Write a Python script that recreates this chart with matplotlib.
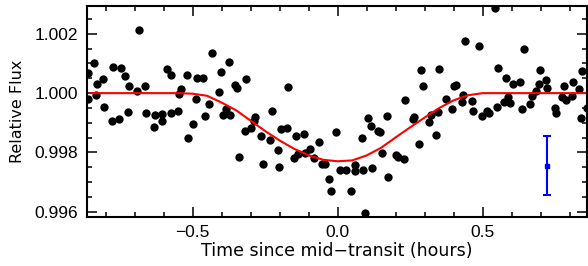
import matplotlib
matplotlib.use("Agg")
import matplotlib.pyplot as plt
from matplotlib.ticker import MultipleLocator

# Observed relative flux (time in hours since mid-transit)
time_hr = [
    -0.862, -0.860, -0.841, -0.834, -0.830, -0.808, -0.805, -0.777, -0.775, -0.752,
    -0.748, -0.734, -0.722, -0.719, -0.691, -0.685, -0.665, -0.660, -0.634, -0.629,
    -0.606, -0.604, -0.588, -0.576, -0.574, -0.551, -0.547, -0.541, -0.519, -0.517,
    -0.499, -0.490, -0.486, -0.464, -0.458, -0.442, -0.433, -0.409, -0.402, -0.396,
    -0.386, -0.376, -0.372, -0.353, -0.346, -0.340, -0.320, -0.316, -0.298, -0.286,
    -0.290, -0.263, -0.256, -0.232, -0.225, -0.207, -0.201, -0.194, -0.175, -0.172,
    -0.151, -0.145, -0.137, -0.118, -0.114, -0.096, -0.082, -0.063, -0.053, -0.045,
    -0.031, -0.025, -0.005, 0.006, 0.027, 0.046, 0.058, 0.061, 0.083, 0.088,
    0.095, 0.104, 0.113, 0.117, 0.138, 0.147, 0.152, 0.170, 0.172, 0.201,
    0.209, 0.227, 0.232, 0.260, 0.264, 0.281, 0.288, 0.295, 0.316, 0.322,
    0.338, 0.347, 0.350, 0.372, 0.394, 0.402, 0.409, 0.427, 0.433, 0.440,
    0.461, 0.465, 0.485, 0.496, 0.514, 0.522, 0.540, 0.549, 0.551, 0.574,
    0.578, 0.585, 0.592, 0.604, 0.629, 0.635, 0.640, 0.663, 0.668, 0.684,
    0.692, 0.698, 0.719, 0.722, 0.747, 0.752, 0.774, 0.780, 0.787, 0.806,
    0.810, 0.832, 0.837, 0.842, 0.858,
]
rel_flux = [
    1.00067, 0.99979, 1.00101, 0.99994, 1.00032, 1.00048, 0.99953, 0.99907, 1.00089, 0.99914,
    1.00085, 1.00058, 0.99936, 1.00024, 1.00007, 1.00214, 1.00023, 0.99933, 0.99885, 0.99927,
    0.99931, 0.99905, 1.00081, 1.00060, 0.99934, 0.99939, 0.99997, 1.00013, 1.00062, 0.99850,
    0.99897, 0.99979, 1.00050, 1.00052, 0.99922, 0.99964, 1.00136, 1.00005, 1.00071, 0.99925,
    0.99947, 1.00105, 0.99925, 1.00029, 1.00017, 0.99786, 0.99873, 1.00046, 0.99883, 0.99921,
    0.99907, 0.99855, 0.99761, 0.99842, 0.99941, 0.99807, 0.99751, 0.99879, 0.99883, 1.00022,
    0.99781, 0.99855, 0.99795, 0.99862, 0.99797, 0.99812, 0.99781, 0.99835, 0.99761, 0.99760,
    0.99709, 0.99671, 0.99870, 0.99741, 0.99741, 0.99671, 0.99758, 0.99737, 0.99850, 0.99741,
    0.99594, 0.99916, 0.99890, 0.99746, 0.99873, 0.99869, 0.99799, 0.99923, 0.99718, 0.99791,
    0.99784, 0.99777, 0.99977, 0.99912, 0.99921, 0.99829, 1.00077, 1.00024, 0.99903, 0.99926,
    0.99858, 0.99936, 1.00083, 0.99979, 0.99948, 1.00024, 1.00029, 0.99970, 0.99992, 1.00175,
    0.99975, 0.99941, 1.00158, 0.99922, 0.99939, 0.99932, 1.00287, 0.99953, 1.00085, 0.99970,
    1.00050, 0.99986, 0.99966, 1.00030, 1.00038, 0.99946, 1.00149, 0.99963, 0.99991, 1.00007,
    1.00030, 1.00079, 1.00045, 1.00017, 0.99949, 0.99934, 0.99986, 1.00024, 0.99977, 0.99991,
    1.00038, 1.00013, 0.99915, 1.00074, 0.99950,
]

# Transit model curve
model_time = [
    -0.85, -0.80, -0.75, -0.70, -0.65, -0.60, -0.55, -0.50, -0.45, -0.40,
    -0.35, -0.30, -0.25, -0.20, -0.15, -0.10, -0.05, 0.00, 0.05, 0.10,
    0.15, 0.20, 0.25, 0.30, 0.35, 0.40, 0.45, 0.50, 0.55, 0.60,
    0.65, 0.70, 0.75, 0.80, 0.85,
]
model_flux = [
    1.00000, 1.00000, 1.00000, 1.00000, 1.00000, 1.00000, 1.00000, 0.99998, 0.99991, 0.99968,
    0.99942, 0.99907, 0.99872, 0.99840, 0.99812, 0.99790, 0.99775, 0.99770, 0.99773, 0.99790,
    0.99816, 0.99851, 0.99885, 0.99918, 0.99950, 0.99976, 0.99993, 1.00000, 1.00000, 1.00000,
    1.00000, 1.00000, 1.00000, 1.00000, 1.00000,
]

# Typical error bar
err_time = [0.72]
err_flux = [0.99755]
err_size = [0.00100]

fig = plt.figure(figsize=(5.88, 2.66), dpi=100)
ax = fig.add_axes([0.1474, 0.1842, 0.8506, 0.7944])

ax.plot(time_hr, rel_flux, 'o', color='black', markersize=6.0, markeredgewidth=0,
        clip_on=True, zorder=2)
ax.plot(model_time, model_flux, '-', color='red', linewidth=1.5, zorder=3)
ax.errorbar(err_time, err_flux, yerr=err_size, fmt='s', color='blue', markersize=2.5,
            capsize=3, elinewidth=1.5, capthick=1.5, zorder=4)

ax.set_xlim(-0.865, 0.858)
ax.set_ylim(0.99582, 1.00295)

ax.xaxis.set_major_locator(MultipleLocator(0.5))
ax.xaxis.set_minor_locator(MultipleLocator(0.1))
ax.yaxis.set_major_locator(MultipleLocator(0.002))
ax.yaxis.set_minor_locator(MultipleLocator(0.0005))
ax.xaxis.set_major_formatter(plt.FuncFormatter(lambda v, p: f"{v:.1f}".replace('-', '\u2212')))
ax.yaxis.set_major_formatter(plt.FuncFormatter(lambda v, p: f"{v:.3f}"))

ax.tick_params(which='both', direction='in', top=True, right=True, width=1.1,
               labelsize=12.5, colors='black')
ax.tick_params(which='major', length=7.2, pad=6)
ax.tick_params(which='minor', length=3.6)
for lab in ax.get_xticklabels() + ax.get_yticklabels():
    lab.set_family('Liberation Sans')
for s in ax.spines.values():
    s.set_linewidth(1.5)

ax.set_xlabel('Time since mid\u2212transit (hours)', fontsize=12.5, family='DejaVu Sans',
              labelpad=1)
ax.set_ylabel('Relative Flux', fontsize=11.5, family='DejaVu Sans', labelpad=7)

fig.savefig('out.png', dpi=100)
